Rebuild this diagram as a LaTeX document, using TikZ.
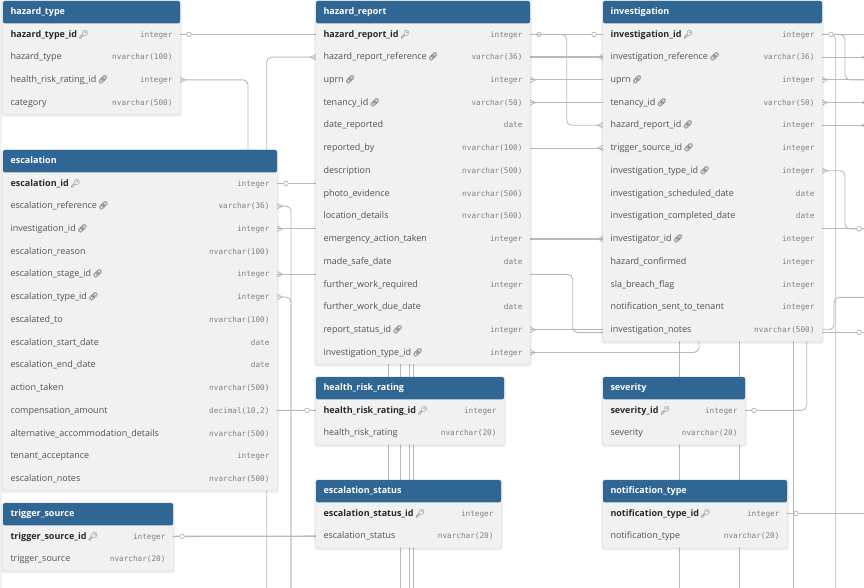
\documentclass[tikz,border=0pt]{standalone}
\usepackage{fontspec}
\setmainfont{Open Sans}
\setmonofont{DejaVu Sans Mono}
\newfontfamily\emojifont{Noto Emoji}
\usetikzlibrary{calc,backgrounds}

\definecolor{headblue}{HTML}{306694}
\definecolor{bodygrey}{HTML}{F1F1F1}
\definecolor{linegrey}{HTML}{B8B8C0}
\definecolor{keyink}{HTML}{2A2A2A}
\definecolor{nameink}{HTML}{525252}
\definecolor{typeink}{HTML}{808080}

\tikzset{
	rowbox/.style={minimum height=22pt, inner sep=0pt, outer sep=0pt},
	rowname/.style={anchor=west, inner sep=0pt, text height=7pt, text depth=2pt, font=\fontsize{9}{9}\selectfont, text=nameink},
	rowtype/.style={anchor=east, inner sep=0pt, text height=7pt, text depth=2pt, font=\ttfamily\fontsize{7.7}{9}\selectfont, text=typeink},
	headname/.style={anchor=west, inner sep=0pt, text height=7pt, text depth=2pt, font=\bfseries\fontsize{9}{9}\selectfont, text=white},
	conn/.style={draw=linegrey, line width=0.9pt, rounded corners=5pt},
	connthick/.style={conn, line width=1.3pt},
	onedot/.style={circle, draw=linegrey, fill=white, line width=0.8pt, minimum size=4.6pt, inner sep=0pt},
}

\newcommand{\keyic}{{\emojifont\fontsize{8}{8}\selectfont\mdseries\color{nameink}\symbol{"1F511}}}
\newcommand{\linkic}{{\emojifont\fontsize{8}{8}\selectfont\color{keyink}\symbol{"1F517}}}
\newcommand{\kkey}[1]{{\bfseries\color{keyink}#1}\,\keyic}
\newcommand{\klink}[1]{#1\,\linkic}
\newcommand{\kplain}[1]{#1}

% id, x, top, width, rows, title, list of name/type/kind
\newcommand{\ertable}[7]{
	\foreach \s in {3,2,1}
		\fill[black, opacity=0.035, rounded corners=3pt] ($(#2,#3)+(-\s*0.7,-\s*0.3)$) rectangle ($(#2+#4,#3+33+#5*22.72-22.72+12)+(\s*0.7,\s*1)$);
	\fill[bodygrey, rounded corners=3pt] (#2,#3) rectangle (#2+#4,#3+33+#5*22.72-22.72+12);
	\fill[headblue, rounded corners=2pt] (#2,#3+22.4) -- (#2,#3) -- (#2+#4,#3) -- (#2+#4,#3+22.4) -- cycle;
	\node[headname] (#1-head) at (#2+7.3,#3+11.4) {#6};
	\foreach \rname/\rtype/\rkind [count=\i] in {#7}{
		\node[rowbox, minimum width=#4pt] (#1-\i) at (#2+#4/2,#3+33.4+\i*22.72-22.72) {};
		\node[rowname] (#1-\i-n) at (#2+7.3,#3+33.6+\i*22.72-22.72) {\rkind{\rname}};
		\node[rowtype] (#1-\i-t) at (#2+#4-7.3,#3+33.6+\i*22.72-22.72) {\rtype};
	}
}
% many end: anchor, direction away from the table
\newcommand{\crow}[2]{\draw[conn, rounded corners=0pt, line width=0.8pt] ($(#1)+(0,-2.7)$) -- ($(#1)+(#2*5.5,0)$) -- ($(#1)+(0,2.7)$);}
% one end: name, anchor, offset
\newcommand{\onemark}[3]{\node[onedot] (#1) at ($(#2)+(#3,0)$) {};}

\begin{document}
\catcode`\_=12
\begin{tikzpicture}[x=1pt,y=-1pt]
	\clip (0,0) rectangle (864,588);
	\useasboundingbox (0,0) rectangle (864,588);
	\fill[black!5] (0,0) rectangle (2.4,588);

	%%%%% tables %%%%%
	\ertable{ht}{3}{1}{177}{4}{hazard_type}{hazard_type_id/integer/\kkey, hazard_type/nvarchar(100)/\kplain, health_risk_rating_id/integer/\klink, category/nvarchar(500)/\kplain}
	\ertable{esc}{3}{150}{274}{14}{escalation}{escalation_id/integer/\kkey, escalation_reference/varchar(36)/\klink, investigation_id/integer/\klink, escalation_reason/nvarchar(100)/\kplain, escalation_stage_id/integer/\klink, escalation_type_id/integer/\klink, escalated_to/nvarchar(100)/\kplain, escalation_start_date/date/\kplain, escalation_end_date/date/\kplain, action_taken/nvarchar(500)/\kplain, compensation_amount/{decimal(10,2)}/\kplain, alternative_accommodation_details/nvarchar(500)/\kplain, tenant_acceptance/integer/\kplain, escalation_notes/nvarchar(500)/\kplain}
	\ertable{ts}{3}{503}{170}{2}{trigger_source}{trigger_source_id/integer/\kkey, trigger_source/nvarchar(20)/\kplain}
	\ertable{hr}{316}{1}{214}{15}{hazard_report}{hazard_report_id/integer/\kkey, hazard_report_reference/varchar(36)/\klink, uprn/integer/\klink, tenancy_id/varchar(50)/\klink, date_reported/date/\kplain, reported_by/nvarchar(100)/\kplain, description/nvarchar(500)/\kplain, photo_evidence/nvarchar(500)/\kplain, location_details/nvarchar(500)/\kplain, emergency_action_taken/integer/\kplain, made_safe_date/date/\kplain, further_work_required/integer/\kplain, further_work_due_date/date/\kplain, report_status_id/integer/\klink, investigation_type_id/integer/\klink}
	\ertable{inv}{603}{1}{219}{14}{investigation}{investigation_id/integer/\kkey, investigation_reference/varchar(36)/\klink, uprn/integer/\klink, tenancy_id/varchar(50)/\klink, hazard_report_id/integer/\klink, trigger_source_id/integer/\klink, investigation_type_id/integer/\klink, investigation_scheduled_date/date/\kplain, investigation_completed_date/date/\kplain, investigator_id/integer/\klink, hazard_confirmed/integer/\kplain, sla_breach_flag/integer/\kplain, notification_sent_to_tenant/integer/\kplain, investigation_notes/nvarchar(500)/\kplain}
	\ertable{hrr}{316}{377}{188}{2}{health_risk_rating}{health_risk_rating_id/integer/\kkey, health_risk_rating/nvarchar(20)/\kplain}
	\ertable{es}{316}{480}{185}{2}{escalation_status}{escalation_status_id/integer/\kkey, escalation_status/nvarchar(20)/\kplain}
	\ertable{sev}{603}{377}{142}{2}{severity}{severity_id/integer/\kkey, severity/nvarchar(20)/\kplain}
	\ertable{nt}{603}{480}{184}{2}{notification_type}{notification_type_id/integer/\kkey, notification_type/nvarchar(20)/\kplain}

	%%%%% free ends and lanes %%%%%
	\coordinate (edge) at (867,0);
	\coordinate (bot) at (0,592);
	\coordinate (lanea) at (248,0);
	\coordinate (laneb) at (266.7,0);
	\coordinate (lanec) at (291,0);
	\coordinate (laned) at (388.3,0);
	\coordinate (lanee) at (400.3,0);
	\coordinate (lanef) at (409.3,0);
	\coordinate (laneg) at (413,0);
	\coordinate (laneh) at (566.7,0);
	\coordinate (lanei) at (572.7,0);
	\coordinate (lanej) at (679.3,0);
	\coordinate (lanek) at (699,0);
	\coordinate (lanel) at (739.3,0);
	\coordinate (lanem) at (793.3,0);
	\coordinate (lanen) at (806.7,0);
	\coordinate (laneo) at (834,0);
	\coordinate (lanep) at (835.7,0);
	\coordinate (laneq) at (845,0);
	\coordinate (hrside) at (530,274.4);
	\coordinate (invsidea) at (603,332.6);
	\coordinate (invsideb) at (822,228.8);
	\coordinate (invsidec) at (822,332.4);
	\coordinate (toprun) at (0,297.3);

	%%%%% connectors %%%%%
	\begin{scope}[on background layer]
		\draw[conn] (ht-1.east) -- (hr-1.west);
		\onemark{d1}{ht-1.east}{9}
		\draw[conn] (ht-3.east) -- (lanea |- ht-3) -- (lanea |- hrr-1) -- (hrr-1.west);
		\crow{ht-3.east}{1}
		\onemark{d2}{hrr-1.west}{-9}
		\draw[conn] (hr-2.west) -- (laneb |- hr-2) -- (laneb |- bot);
		\crow{hr-2.west}{-1}
		\draw[conn] (esc-1.east) -- (esc-1.east -| hr-1.west);
		\onemark{d3}{esc-1.east}{9}
		\draw[conn] (esc-2.east) -- (lanec |- esc-2) -- (lanec |- bot);
		\crow{esc-2.east}{1}
		\draw[conn] (esc-6.east) -- (lanec |- esc-6) -- (lanec |- bot);
		\crow{esc-6.east}{1}
		\draw[connthick] (esc-3.east) -- (esc-3.east -| hr-1.west);
		\crow{esc-3.east}{1}
		\draw[conn] (esc-5.east) -- (esc-5.east -| hr-1.west);
		\crow{esc-5.east}{1}
		\draw[connthick] (ts-1.east) -- (es-2.west);
		\onemark{d4}{ts-1.east}{9}

		\draw[connthick] (hr-1.east) -- (inv-1.west);
		\onemark{d5}{hr-1.east}{9}
		\onemark{d6}{inv-1.west}{-9}
		\draw[conn] (hr-1.east) -- (laneh |- hr-1) -- (laneh |- inv-5) -- (inv-5.west);
		\crow{inv-5.west}{-1}
		\draw[connthick] (hr-2.east) -- (inv-2.west);
		\crow{inv-2.west}{-1}
		\draw[conn] (inv-3.west) -- (hr-3.east);
		\crow{hr-3.east}{1}
		\draw[conn] (inv-4.west) -- (hr-4.east);
		\crow{hr-4.east}{1}
		\draw[conn] (inv-6.west) -- (inv-6.west -| hr-1.east);
		\crow{inv-6.west}{-1}
		\draw[connthick] (inv-10.west) -- (inv-10.west -| hr-1.east);
		\crow{inv-10.west}{-1}
		\draw[conn] (hrside) -- (lanei |- hrside) -- (lanei |- invsidea) -- (invsidea);
		\draw[conn] (hr-14.east) -- (inv-14.west);
		\crow{hr-14.east}{1}
		\draw[conn] (hr-15.east) -- (lanek |- hr-15) -- (lanek |- inv-14);
		\crow{hr-15.east}{1}

		\draw[conn] (laned |- hr-15) -- (laned |- es-1);
		\draw[conn] (lanee |- hr-15) -- (lanee |- bot);
		\draw[conn] (lanef |- hr-15) -- (lanef |- bot);
		\draw[conn] (laneg |- hr-15) -- (laneg |- bot);

		\draw[conn] (lanej |- inv-14) -- (lanej |- bot);
		\draw[conn] (lanel |- inv-14) -- (lanel |- bot);
		\draw[connthick] (lanem |- inv-14) -- (lanem |- bot);
		\draw[conn] (sev-1.east) -- (lanen |- sev-1) -- (lanen |- inv-14);
		\onemark{d7}{sev-1.east}{9}
		\draw[conn] (nt-1.east) -- (nt-1.east -| edge);
		\onemark{d8}{nt-1.east}{9}

		\draw[conn] (inv-1.east) -- (inv-1.east -| edge);
		\draw[conn] (inv-1.east) -- (lanep |- inv-1) -- (lanep |- bot);
		\draw[conn] (inv-1.east) -- (laneq |- inv-1) -- (laneq |- inv-3) -- (inv-3.east -| edge);
		\onemark{d9}{inv-1.east}{9}
		\draw[conn] (inv-2.east) -- (inv-2.east -| edge);
		\crow{inv-2.east -| edge}{-1}
		\draw[conn] (inv-3.east) -- (inv-3.east -| edge);
		\crow{inv-3.east}{1}
		\draw[conn] (inv-4.east) -- (inv-4.east -| edge);
		\crow{inv-4.east}{1}
		\crow{inv-4.east -| edge}{-1}
		\draw[conn] (inv-5.east) -- (inv-5.east -| edge);
		\crow{inv-5.east -| edge}{-1}
		\draw[conn] (inv-7.east) -- (laneq |- inv-7) -- (laneq |- invsideb) -- (invsideb -| edge);
		\crow{inv-7.east}{1}
		\draw[conn] (invsideb) -- (invsideb -| edge);
		\onemark{d10}{invsideb -| edge}{-8}
		\draw[conn] (inv-14.east) -- (laneo |- inv-14) -- (laneo |- toprun) -- (toprun -| edge);
		\draw[conn] (invsidec) -- (invsidec -| edge);
		\onemark{d11}{invsidec -| edge}{-8}
	\end{scope}
\end{tikzpicture}
\end{document}
